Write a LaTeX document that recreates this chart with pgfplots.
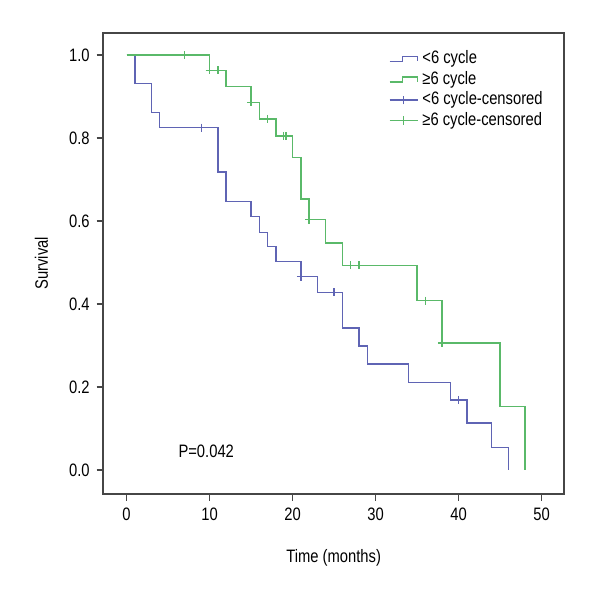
\documentclass[border=0pt]{standalone}
\usepackage{fontspec}
\setmainfont{Liberation Sans}[FakeStretch=0.82]
\usepackage{pgfplots}
\pgfplotsset{compat=1.18}
\definecolor{kmblue}{RGB}{95,100,180}
\definecolor{kmgreen}{RGB}{90,185,105}
\definecolor{axgray}{RGB}{70,70,70}
\begin{document}
\begin{tikzpicture}[font=\fontsize{9}{11}\selectfont]
\begin{axis}[
  at={(0,0)}, anchor=south west,
  scale only axis, width=230.35pt, height=230.65pt,
  xmin=-2.8, xmax=52.7, ymin=-0.058, ymax=1.054,
  xtick={0,10,20,30,40,50},
  ytick={0,0.2,0.4,0.6,0.8,1.0},
  yticklabel style={/pgf/number format/.cd,fixed,fixed zerofill,precision=1},
  /pgf/number format/assume math mode=true,
  tick align=outside, tick pos=left, major tick length=3.3pt,
  axis line style={axgray, line width=0.9pt},
  tick style={axgray, line width=0.7pt},
  xlabel={Time (months)}, ylabel={Survival},
  xlabel style={at={(axis description cs:0.5,-0.139)}, anchor=center},
  ylabel style={at={(axis description cs:-0.134,0.5)}, anchor=center},
  legend style={at={(rel axis cs:0.615,0.975)}, anchor=north west, draw=none, fill=none,
    font=\fontsize{9}{10.5}\selectfont, row sep=-1.7pt, inner sep=1pt},
  legend cell align=left,
]
\addplot[kmblue, line width=0.7pt, const plot,
  legend image code/.code={\draw[kmblue, line width=0.7pt] (0pt,-1.3pt) -- (6.3pt,-1.3pt) -- (6.3pt,1.2pt) -- (14pt,1.2pt) -- (14pt,-1.3pt);}]
coordinates {(0,1) (1,0.932) (3,0.862) (4,0.825) (11,0.718) (12,0.647) (15,0.611) (16,0.573) (17,0.539) (18,0.502) (21,0.466) (23,0.428) (26,0.342) (28,0.299) (29,0.255) (34,0.211) (39,0.169) (41,0.113) (44,0.054) (46,0)};
\addlegendentry{<6 cycle}
\addplot[kmgreen, line width=0.7pt, const plot,
  legend image code/.code={\draw[kmgreen, line width=0.7pt] (0pt,-1.3pt) -- (6.3pt,-1.3pt) -- (6.3pt,1.2pt) -- (14pt,1.2pt) -- (14pt,-1.3pt);}]
coordinates {(0,1) (10,0.963) (12,0.925) (15,0.886) (16,0.846) (18,0.805) (20,0.753) (21,0.653) (22,0.603) (24,0.547) (26,0.493) (35,0.408) (38,0.306) (45,0.153) (48,0)};
\addlegendentry{≥6 cycle}
\addplot[kmblue, only marks, mark=+, mark size=2pt, mark options={line width=0.7pt},
  legend image code/.code={\draw[kmblue, line width=0.7pt] (0pt,0pt) -- (14pt,0pt); \draw[kmblue, line width=0.7pt] (7pt,-2.2pt) -- (7pt,2.2pt);}]
coordinates {(9,0.825) (21,0.466) (25,0.428) (40,0.169)};
\addlegendentry{<6 cycle-censored}
\addplot[kmgreen, only marks, mark=+, mark size=2pt, mark options={line width=0.7pt},
  legend image code/.code={\draw[kmgreen, line width=0.7pt] (0pt,0pt) -- (14pt,0pt); \draw[kmgreen, line width=0.7pt] (7pt,-2.2pt) -- (7pt,2.2pt);}]
coordinates {(7,1) (10,0.963) (11,0.963) (15,0.886) (17,0.846) (18.9,0.805) (19.2,0.805) (22,0.603) (27,0.493) (28,0.493) (36,0.408) (38,0.306)};
\addlegendentry{≥6 cycle-censored}
\node at (axis cs:9.6,0.045) {P=0.042};
\end{axis}
\pgfresetboundingbox
\useasboundingbox (-51.65pt,-53pt) rectangle (248.35pt,247pt);
\end{tikzpicture}
\end{document}
